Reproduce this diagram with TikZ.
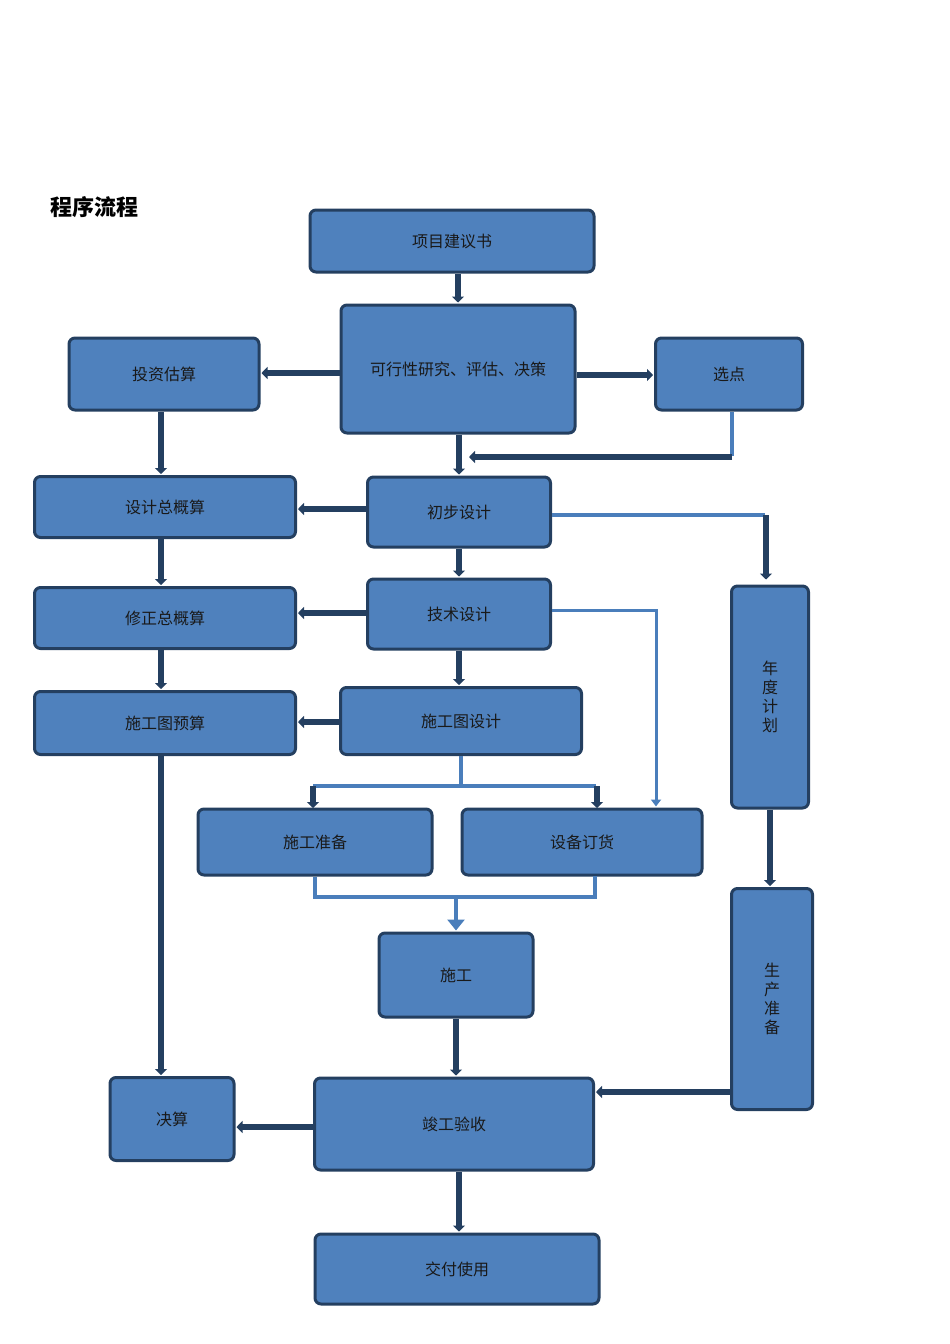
\documentclass[tikz,border=0pt]{standalone}
\usepackage{fontspec}
\newfontfamily\cjk{Noto Sans CJK SC}
\usetikzlibrary{arrows.meta,positioning}
\definecolor{boxfill}{HTML}{4F81BD}
\definecolor{boxline}{HTML}{243F60}
\definecolor{thinline}{HTML}{4A7EBB}

\begin{document}
\begin{tikzpicture}[x=1pt,y=-1pt,shorten >=1pt,
	box/.style={draw=boxline,line width=3pt,fill=boxfill,rounded corners=6pt,
		inner sep=0pt,align=center,text=black!90,font=\cjk\fontsize{16}{19}\selectfont},
	darrow/.style={draw=boxline,line width=5.5pt,-{Triangle[width=12pt,length=6pt]}},
	lline/.style={draw=thinline,line width=4.5pt},
	larrow/.style={draw=thinline,line width=4.5pt,-{Triangle[width=17pt,length=11pt]}},
	tarrow/.style={draw=thinline,line width=3pt,-{Triangle[width=10pt,length=7pt]}}]
	
	\useasboundingbox (0,0) rectangle (950,1344);
	
	\node[font=\cjk\bfseries\fontsize{22}{26}\selectfont] (title) at (94,207) {程序流程};
	
	\node[box,minimum width=284pt,minimum height=62pt]  (jianyi)    at (452,241)  {项目建议书};
	\node[box,minimum width=234pt,minimum height=128pt] (kexing)    at (458,369)  {可行性研究、评估、决策};
	\node[box,minimum width=190pt,minimum height=72pt]  (touzi)     at (164,374)  {投资估算};
	\node[box,minimum width=147pt,minimum height=72pt]  (xuandian)  at (729,374)  {选点};
	\node[box,minimum width=261pt,minimum height=61pt]  (zonggai)   at (165,507)  {设计总概算};
	\node[box,minimum width=183pt,minimum height=70pt]  (chubu)     at (459,512)  {初步设计};
	\node[box,minimum width=261pt,minimum height=61pt]  (xiuzheng)  at (165,618)  {修正总概算};
	\node[box,minimum width=183pt,minimum height=70pt]  (jishu)     at (459,614)  {技术设计};
	\node[box,minimum width=77pt,minimum height=222pt]  (niandu)    at (770,697)  {年\\度\\计\\划};
	\node[box,minimum width=261pt,minimum height=63pt]  (yusuan)    at (165,723)  {施工图预算};
	\node[box,minimum width=241pt,minimum height=67pt]  (tusheji)   at (461,721)  {施工图设计};
	\node[box,minimum width=234pt,minimum height=66pt]  (zhunbei)   at (315,842)  {施工准备};
	\node[box,minimum width=240pt,minimum height=66pt]  (shebei)    at (582,842)  {设备订货};
	\node[box,minimum width=154pt,minimum height=84pt]  (shigong)   at (456,975)  {施工};
	\node[box,minimum width=81pt,minimum height=221pt]  (shengchan) at (772,999)  {生\\产\\准\\备};
	\node[box,minimum width=124pt,minimum height=83pt]  (juesuan)   at (172,1119) {决算};
	\node[box,minimum width=279pt,minimum height=92pt]  (jungong)   at (454,1124) {竣工验收};
	\node[box,minimum width=284pt,minimum height=70pt]  (jiaofu)    at (457,1269) {交付使用};
	
	% main column
	\draw[darrow] (kexing.north |- jianyi.south) -- (kexing.north);
	\draw[darrow] (kexing.west |- 0,373) -- (touzi.east |- 0,373);
	\draw[darrow] (kexing.east |- 0,375) -- (xuandian.west |- 0,375);
	\draw[darrow] (chubu.north |- kexing.south) -- (chubu.north);
	\draw[darrow] (chubu.south) -- (jishu.north);
	\draw[darrow] (jishu.south) -- (jishu.south |- tusheji.north);
	
	% xuandian back to main line
	\coordinate (xdturn) at (732,457);
	\draw[lline] (xdturn |- xuandian.south) -- (xdturn);
	\draw[darrow] (xdturn) -- (468,457);
	
	% left column
	\draw[darrow] ([xshift=-3pt]touzi.south) -- ([xshift=-3pt]touzi.south |- zonggai.north);
	\draw[darrow] ([xshift=-4pt]zonggai.south) -- ([xshift=-4pt]xiuzheng.north);
	\draw[darrow] ([xshift=-4pt]xiuzheng.south) -- ([xshift=-4pt]yusuan.north);
	\draw[darrow] ([xshift=-4pt]yusuan.south) -- ([xshift=-4pt]yusuan.south |- juesuan.north);
	\draw[darrow] (chubu.west |- 0,509) -- (zonggai.east |- 0,509);
	\draw[darrow] (jishu.west |- 0,613) -- (xiuzheng.east |- 0,613);
	\draw[darrow] (tusheji.west |- 0,722) -- (yusuan.east |- 0,722);
	
	% right column
	\coordinate (ndturn) at (766,515);
	\draw[lline] (chubu.east |- ndturn) -- (ndturn);
	\draw[darrow,shorten >=5pt] (ndturn) -- (ndturn |- niandu.north);
	\draw[darrow] (niandu.south) -- (niandu.south |- shengchan.north);
	\draw[tarrow] (jishu.east |- 0,610) -| ([xshift=74pt]shebei.north);
	
	% fan out / fan in
	\coordinate (fanout) at (461,786);
	\draw[lline] (tusheji.south) -- (fanout);
	\draw[lline] (313,786) -- (597,786);
	\draw[darrow] (313,786) -- (313,809);
	\draw[darrow] (597,786) -- (597,809);
	\coordinate (fanin) at (456,897);
	\draw[lline] (zhunbei.south) |- (fanin) -| (595,875);
	\draw[larrow] (fanin) -- (shigong.north);
	
	% bottom
	\draw[darrow] (shigong.south) -- (shigong.south |- jungong.north);
	\draw[darrow] (shengchan.west |- 0,1092) -- (jungong.east |- 0,1092);
	\draw[darrow] (jungong.west |- 0,1127) -- (juesuan.east |- 0,1127);
	\draw[darrow] ([xshift=2pt]jiaofu.north |- jungong.south) -- ([xshift=2pt]jiaofu.north);
\end{tikzpicture}
\end{document}
